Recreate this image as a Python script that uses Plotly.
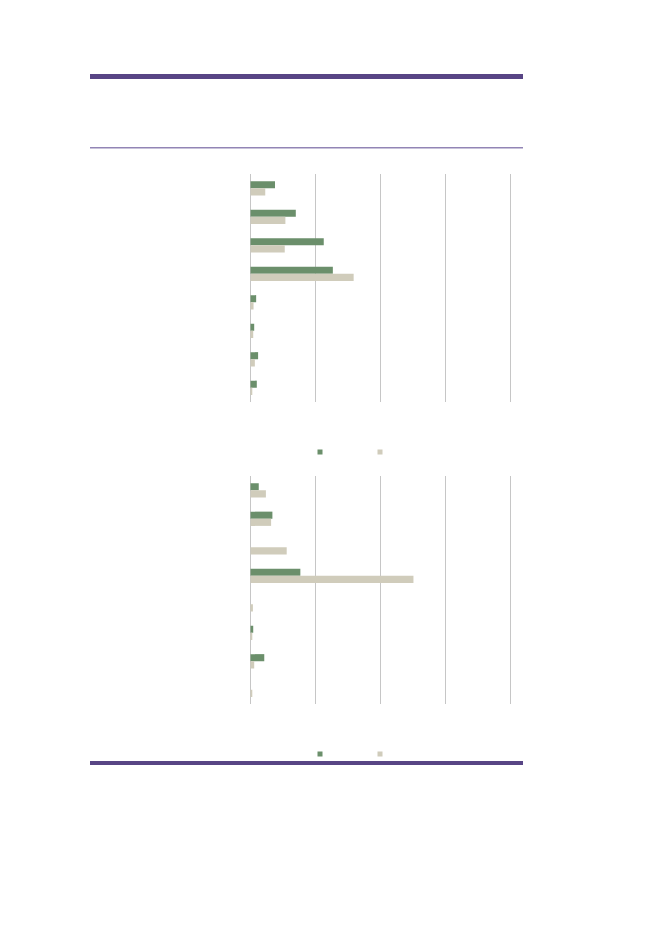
import plotly.graph_objects as go

# categories (labels not legible in the source, kept as positions)
cats = ["1", "2", "3", "4", "5", "6", "7", "8"]

# panel 1 values
top_green = [3.8, 7.0, 11.3, 12.7, 0.9, 0.6, 1.2, 1.0]
top_beige = [2.3, 5.4, 5.3, 15.9, 0.5, 0.45, 0.7, 0.25]

# panel 2 values
bot_green = [1.3, 3.4, 0.0, 7.7, 0.0, 0.45, 2.15, 0.0]
bot_beige = [2.4, 3.2, 5.6, 25.1, 0.4, 0.2, 0.6, 0.2]

x_ticks = [0, 10, 20, 30, 40]

GREEN = "#6b8f6b"
BEIGE = "#d0ccbb"
PURPLE = "#584585"
LIGHT_PURPLE = "#9285b5"
W, H = 661, 933
OFF = 8  # page body margin

fig = go.Figure()

# bars
for xs, col, xa, ya in [(top_green, GREEN, "x", "y"), (top_beige, BEIGE, "x", "y"),
                        (bot_green, GREEN, "x2", "y2"), (bot_beige, BEIGE, "x2", "y2")]:
    fig.add_trace(go.Bar(x=xs, y=cats, orientation="h", marker_color=col,
                         marker_line_width=0, xaxis=xa, yaxis=ya, showlegend=False))

# legend entries (text not legible in source)
for col, lg in [(GREEN, "legend"), (BEIGE, "legend"), (GREEN, "legend2"), (BEIGE, "legend2")]:
    fig.add_trace(go.Scatter(x=[None], y=[None], mode="markers", name="",
                             marker=dict(symbol="square", size=5, color=col),
                             legend=lg, showlegend=True))

def px_x(p):
    return (p - OFF) / W

def px_y(p):
    return 1 - (p - OFF) / H

# 10 units = 65 px; range padded a little so the 40 gridline is drawn
xmax = 40.5
xdom = [px_x(250.3), px_x(250.3 + xmax * 6.5)]
axis_x = dict(range=[0, xmax], tickvals=x_ticks, showticklabels=False, showgrid=True,
              gridcolor="#c6c6c6", gridwidth=1, zeroline=True, zerolinecolor="#c6c6c6",
              zerolinewidth=1, showline=False, fixedrange=True)
axis_y = dict(autorange="reversed", showticklabels=False, showgrid=False,
              zeroline=False, showline=False, ticks="")

leg = dict(orientation="h", bgcolor="rgba(0,0,0,0)", entrywidth=15, entrywidthmode="pixels",
           itemwidth=30, font=dict(size=8), xanchor="left", yanchor="middle",
           tracegroupgap=0, itemclick=False)

fig.update_layout(
    width=W, height=H,
    margin=dict(l=0, r=0, t=0, b=0),
    paper_bgcolor="white", plot_bgcolor="white",
    barmode="group", bargap=0.5, bargroupgap=0,
    xaxis=dict(axis_x, domain=xdom, anchor="y"),
    yaxis=dict(axis_y, domain=[px_y(402), px_y(174)], anchor="x"),
    xaxis2=dict(axis_x, domain=xdom, anchor="y2"),
    yaxis2=dict(axis_y, domain=[px_y(704), px_y(476)], anchor="x2"),
    legend=dict(leg, x=px_x(300), y=px_y(452)),
    legend2=dict(leg, x=px_x(300), y=px_y(754)),
    shapes=[
        dict(type="rect", xref="paper", yref="paper", x0=px_x(90), x1=px_x(523),
             y0=px_y(79), y1=px_y(74), fillcolor=PURPLE, line_width=0),
        dict(type="line", xref="paper", yref="paper", x0=px_x(90), x1=px_x(523),
             y0=px_y(147.7), y1=px_y(147.7), line=dict(color=LIGHT_PURPLE, width=1.5)),
        dict(type="rect", xref="paper", yref="paper", x0=px_x(90), x1=px_x(523),
             y0=px_y(765), y1=px_y(761), fillcolor=PURPLE, line_width=0),
    ],
)

fig.write_html("out.html")
